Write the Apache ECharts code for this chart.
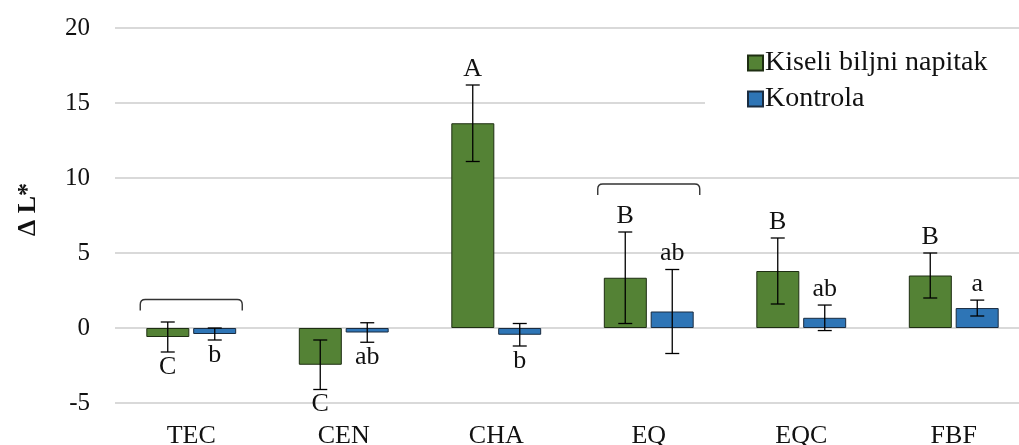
<!DOCTYPE html>
<html>
<head>
<meta charset="utf-8">
<script src="https://cdn.jsdelivr.net/npm/echarts@6/dist/echarts.min.js"></script>
<style>
  html, body { margin: 0; padding: 0; background: #fff; }
  #chart { width: 1019px; height: 445px; }
</style>
</head>
<body>
<div id="chart"></div>
<script>
// podaci
const categories = ['TEC', 'CEN', 'CHA', 'EQ', 'EQC', 'FBF']
const napitak = [-0.6, -2.45, 13.65, 3.35, 3.8, 3.5]
const napitakErr = [1.0, 1.65, 2.55, 3.05, 2.2, 1.5]
const napitakLetters = ['C', 'C', 'A', 'B', 'B', 'B']
const kontrola = [-0.4, -0.3, -0.45, 1.1, 0.68, 1.33]
const kontrolaErr = [0.4, 0.65, 0.75, 2.8, 0.85, 0.53]
const kontrolaLetters = ['b', 'ab', 'b', 'ab', 'ab', 'a']
const bracketCats = ['TEC', 'EQ']
const bracketLevels = [1.9, 9.6]

const green = '#548235'
const blue = '#2e75b6'
const font = '"Liberation Serif", "DejaVu Serif", serif'
const barW = 43
const barOff = 23.5

let myEchart = echarts.init(document.getElementById('chart'))

function errData(vals, errs) {
  return vals.map((v, i) => [i, v, errs[i]])
}

function errRender(dx, letters) {
  return function (params, api) {
    let i = api.value(0)
    let v = api.value(1)
    let e = api.value(2)
    let hi = api.coord([i, v + e])
    let lo = api.coord([i, v - e])
    let x = hi[0] + dx
    let style = { stroke: '#000', lineWidth: 1.3 }
    // slovo iznad ili ispod
    let txt = letters[params.dataIndex]
    let ty = v >= 0 ? hi[1] - 16 : lo[1] + 15
    return {
      type: 'group',
      children: [
        { type: 'line', shape: { x1: x, y1: hi[1], x2: x, y2: lo[1] }, style: style },
        { type: 'line', shape: { x1: x - 7, y1: hi[1], x2: x + 7, y2: hi[1] }, style: style },
        { type: 'line', shape: { x1: x - 7, y1: lo[1], x2: x + 7, y2: lo[1] }, style: style },
        {
          type: 'text',
          style: {
            text: txt, x: x, y: ty,
            align: 'center', verticalAlign: 'middle',
            font: '26px ' + font, fill: '#111'
          }
        }
      ]
    }
  }
}

myEchart.setOption({
  animation: false,
  grid: { left: 115, right: -11, top: 28, bottom: 42, outerBoundsMode: 'none', containLabel: false },
  legend: {
    orient: 'vertical',
    left: 705,
    top: 45,
    itemWidth: 15,
    itemHeight: 15,
    itemGap: 8,
    icon: 'rect',
    backgroundColor: '#fff',
    padding: [4, 60, 10, 42],
    data: ['Kiseli biljni napitak', 'Kontrola'],
    textStyle: { fontFamily: font, fontSize: 28, color: '#111', padding: [0, 0, 0, -3] }
  },
  xAxis: {
    type: 'category',
    data: categories,
    axisLine: { show: false },
    axisTick: { show: false },
    axisLabel: { fontFamily: font, fontSize: 26, color: '#111', margin: 20 }
  },
  yAxis: {
    type: 'value',
    min: -5,
    max: 20,
    interval: 5,
    name: 'Δ L*',
    nameLocation: 'middle',
    nameGap: 74,
    nameRotate: 90,
    nameTextStyle: { fontFamily: font, fontSize: 26, fontWeight: 'bold', color: '#111', padding: [0, 0, 0, 12] },
    axisLine: { show: false },
    axisTick: { show: false },
    axisLabel: { fontFamily: font, fontSize: 25, color: '#111', margin: 25 },
    splitLine: { lineStyle: { color: '#d9d9d9', width: 2 } }
  },
  series: [
    {
      name: 'Kiseli biljni napitak',
      type: 'bar',
      barWidth: barW,
      barGap: '9%',
      data: napitak,
      itemStyle: { color: green, borderColor: '#1e2e12', borderWidth: 1 }
    },
    {
      name: 'Kontrola',
      type: 'bar',
      barWidth: barW,
      data: kontrola,
      itemStyle: { color: blue, borderColor: '#1a2c40', borderWidth: 1 }
    },
    {
      type: 'custom',
      renderItem: errRender(-barOff, napitakLetters),
      data: errData(napitak, napitakErr),
      z: 5
    },
    {
      type: 'custom',
      renderItem: errRender(barOff, kontrolaLetters),
      data: errData(kontrola, kontrolaErr),
      z: 5
    },
    {
      type: 'custom',
      data: bracketCats.map((c, i) => [categories.indexOf(c), bracketLevels[i]]),
      renderItem: function (params, api) {
        let p = api.coord([api.value(0), api.value(1)])
        let half = 51
        let x1 = p[0] - half, x2 = p[0] + half, y = p[1]
        return {
          type: 'path',
          shape: {
            pathData: 'M' + x1 + ' ' + (y + 11) + ' L' + x1 + ' ' + (y + 5) +
              ' Q' + x1 + ' ' + y + ' ' + (x1 + 5) + ' ' + y +
              ' L' + (x2 - 5) + ' ' + y +
              ' Q' + x2 + ' ' + y + ' ' + x2 + ' ' + (y + 5) +
              ' L' + x2 + ' ' + (y + 11)
          },
          style: { fill: null, stroke: '#333', lineWidth: 1.4 }
        }
      },
      z: 5
    }
  ]
})
</script>
</body>
</html>
